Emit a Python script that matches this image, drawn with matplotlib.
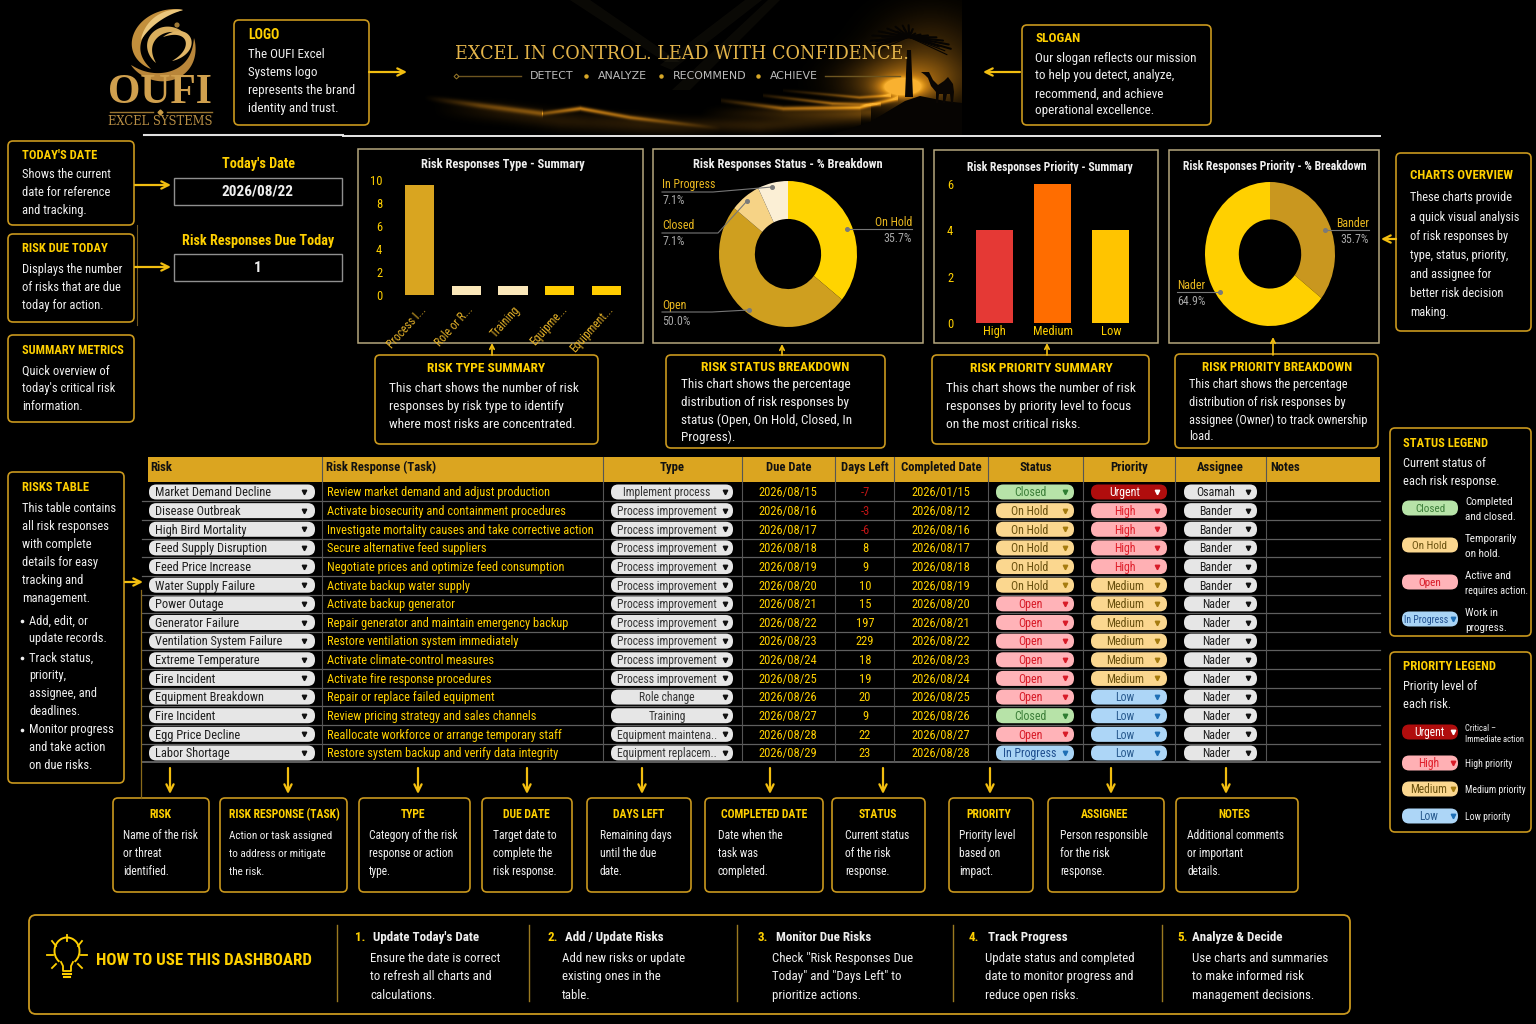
#!/usr/bin/env python3
# risk dashboard, everything placed in image pixels on one full-figure axes
import numpy as np
import matplotlib; matplotlib.use('Agg'); import matplotlib.pyplot as plt
from matplotlib import font_manager as fm
from matplotlib.patches import FancyBboxPatch, Rectangle, Polygon, Circle, Arc

names={f.name for f in fm.fontManager.ttflist}
NARROW=next((n for n in ('Liberation Sans Narrow','Roboto Condensed','Liberation Sans') if n in names),'DejaVu Sans')
plt.rcParams['font.family']=[NARROW,'DejaVu Sans']

GOLD='#FFD000'; EDGE='#C9981E'; WHITE='#EFEFEF'; GREY='#A8A8A8'; PANEL='#B5A67C'

# ---- table data
risks=['Market Demand Decline','Disease Outbreak','High Bird Mortality','Feed Supply Disruption','Feed Price Increase',
       'Water Supply Failure','Power Outage','Generator Failure','Ventilation System Failure','Extreme Temperature',
       'Fire Incident','Equipment Breakdown','Fire Incident','Egg Price Decline','Labor Shortage']
tasks=['Review market demand and adjust production','Activate biosecurity and containment procedures',
       'Investigate mortality causes and take corrective action','Secure alternative feed suppliers',
       'Negotiate prices and optimize feed consumption','Activate backup water supply','Activate backup generator',
       'Repair generator and maintain emergency backup','Restore ventilation system immediately',
       'Activate climate-control measures','Activate fire response procedures','Repair or replace failed equipment',
       'Review pricing strategy and sales channels','Reallocate workforce or arrange temporary staff',
       'Restore system backup and verify data integrity']
types=['Implement process']+['Process improvement']*10+['Role change','Training','Equipment maintena..','Equipment replacem..']
due=['2026/08/15','2026/08/16','2026/08/17','2026/08/18','2026/08/19','2026/08/20','2026/08/21','2026/08/22',
     '2026/08/23','2026/08/24','2026/08/25','2026/08/26','2026/08/27','2026/08/28','2026/08/29']
days_left=[-7,-3,-6,8,9,10,15,197,229,18,19,20,9,22,23]
completed=['2026/01/15','2026/08/12','2026/08/16','2026/08/17','2026/08/18','2026/08/19','2026/08/20','2026/08/21',
           '2026/08/22','2026/08/23','2026/08/24','2026/08/25','2026/08/26','2026/08/27','2026/08/28']
status=['Closed','On Hold','On Hold','On Hold','On Hold','On Hold','Open','Open','Open','Open','Open','Open','Closed','Open','In Progress']
priority=['Urgent','High','High','High','High','Medium','Medium','Medium','Medium','Medium','Medium','Low','Low','Low','Low']
assignee=['Osamah','Bander','Bander','Bander','Bander','Bander']+['Nader']*9
headers=['Risk','Risk Response (Task)','Type','Due Date','Days Left','Completed Date','Status','Priority','Assignee','Notes']

# ---- chart data
type_names=['Process I...','Role or R...','Training','Equipme...','Equipment...']
type_counts=[9.6,0.8,0.8,0.8,0.8]
status_names=['On Hold','Open','Closed','In Progress']
status_pct=[35.7,50.0,7.1,7.1]
prio_names=['High','Medium','Low']
prio_counts=[4,6,4]
owner_names=['Bander','Nader']
owner_pct=[35.7,64.9]

fig=plt.figure(figsize=(15.36,10.24),dpi=100,facecolor='black')
ax=fig.add_axes([0,0,1,1]); ax.set_xlim(0,1536); ax.set_ylim(1024,0); ax.axis('off')

def px_axes(x0,y0,x1,y1):
    a=fig.add_axes([x0/1536,1-y1/1024,(x1-x0)/1536,(y1-y0)/1024]); a.patch.set_alpha(0)
    return a
def t(x,y,s,c=WHITE,fs=9.0,w='normal',ha='left',**kw):
    return ax.text(x,y+.8,s,color=c,fontsize=fs,fontweight=w,ha=ha,va='center',**kw)
def rbox(x0,y0,x1,y1,ec=EDGE,lw=1.2,r=5,fc='black',z=1):
    p=FancyBboxPatch((x0+r,y0+r),x1-x0-2*r,y1-y0-2*r,boxstyle=f'round,pad={r},rounding_size={r}',ec=ec,fc=fc,lw=lw,zorder=z)
    ax.add_patch(p); return p
def arrow(x0,y0,x1,y1,lw=1.6,ms=13):
    ax.annotate('',xy=(x1,y1),xytext=(x0,y0),arrowprops=dict(arrowstyle='->',color='#F2BE10',lw=lw,mutation_scale=ms,shrinkA=0,shrinkB=0))

# ---- banner: glow plus soft dune crests
yy,xx=np.mgrid[0:135,410:962]
glow=1.0*np.exp(-(((xx-901)/20.)**2+((yy-87)/9.)**2))+0.55*np.exp(-(((xx-905)/52.)**2+((yy-82)/24.)**2))+0.24*np.exp(-(((xx-930)/50.)**2+((yy-55)/40.)**2))
crests=[([423,480,542],[97,105,113],[.0,.35,.45],3.0),
        ([430,500,560,640,720],[108,112,120,125,133],[.0,.12,.14,.12,.0],9.0),
        ([542,580,630,721],[113,108,117,128],[.4,.75,.55,.0],2.2),
        ([590,680,760,860],[118,124,125,118],[.0,.1,.18,.14],7.0),
        ([721,783,859,897],[100,108,107,98],[.1,.55,.7,.5],2.2),
        ([763,832,880],[95,103,104],[.1,.6,.3],1.8),
        ([783,859,890],[90,97,95],[.05,.45,.4],1.6),
        ([700,790,870],[112,113,112],[.0,.2,.3],6.0)]
band=np.zeros_like(glow)
for xs,ys,amps,wd in crests:
    yc=np.interp(xx,xs,ys); am=np.where((xx<xs[0])|(xx>xs[-1]),0,np.interp(xx,xs,amps))
    band+=am*np.exp(-((yy-yc)/wd)**2)
level=np.clip(glow+band,0,1)
img=np.zeros(yy.shape+(4,)); img[...,0]=.98; img[...,1]=.62+.3*np.clip(level-.75,0,1); img[...,2]=.10+.6*np.clip(level-.85,0,1)
img[...,3]=level
ax.imshow(img,extent=(410,962,135,0),aspect='auto',zorder=0,interpolation='bilinear')
ax.set_xlim(0,1536); ax.set_ylim(1024,0)
for pts in ((570,0),(590,0),(680,62),(665,62)),((780,0),(768,0),(672,90),(690,90)),((762,0),(745,0),(660,65),(672,70)):
    ax.add_patch(Polygon(pts,fc='#6a5c3a',alpha=.10,ec='none',zorder=0))
ax.add_patch(Polygon([(830,135),(870,122),(905,101),(920,96),(945,101),(962,103),(962,135)],fc='#060402',ec='none',zorder=0.6))
# palm and camel
ax.add_patch(Polygon([(907,50),(911,50),(913,97),(905,97)],fc='#080503',ec='none',zorder=0.7))
for ang,ln in zip(np.radians(np.arange(-175,11,12.)),[38,40,42,40,36,32,28,24,20,16,20,26,32,36,40,42,40]):
    ax.plot([909,909+ln*np.cos(ang)],[37,37+ln*.5*np.sin(ang)+abs(np.cos(ang))*10],color='#060402',lw=1.5,solid_capstyle='round',zorder=0.7)
    ax.plot([909,909+(ln-4)*np.cos(ang)],[37,37+(ln-4)*.5*np.sin(ang)+abs(np.cos(ang))*16],color='#060402',lw=.8,zorder=0.7)
ax.add_patch(Polygon([(921,72),(929,72),(933,80),(938,85),(944,81),(948,77),(953,84),(954,92),(953,103),(951,103),(950,94),(947,94),(945,103),(943,103),(943,94),(939,94),(938,103),(936,103),(936,92),(931,86),(928,78),(925,75)],fc='#0a0603',ec='none',zorder=0.8))

t(455,53,'EXCEL IN CONTROL. LEAD WITH CONFIDENCE.',c='#E3B44A',fs=12.7,family='DejaVu Serif',zorder=2)
for x,s in ((530,'DETECT'),(598,'ANALYZE'),(673,'RECOMMEND'),(770,'ACHIEVE')):
    t(x,75,s,c='#BDBDBD',fs=7.9,family='DejaVu Sans')
for x in (586,661,758):
    ax.plot(x,76,'o',ms=2.2,color='#D8A828')
ax.plot([458,521],[76,76],color='#6d5520',lw=1); ax.plot([825,900],[76,76],color='#6d5520',lw=1)
ax.plot(456,76,'D',ms=2.5,mfc='none',mec='#9a7a2a',mew=.7)

# ---- logo, tapered ribbons along bezier curves
def ribbon(p0,p1,p2,p3,wd,col,z=1):
    u=np.linspace(0,1,50)[:,None]
    p0,p1,p2,p3=map(np.array,(p0,p1,p2,p3))
    c=(1-u)**3*p0+3*(1-u)**2*u*p1+3*(1-u)*u**2*p2+u**3*p3
    d=np.gradient(c,axis=0); n=np.c_[-d[:,1],d[:,0]]/np.hypot(d[:,0],d[:,1])[:,None]
    hw=wd/2*np.sin(np.pi*u)**.8
    ax.add_patch(Polygon(np.r_[c+n*hw,(c-n*hw)[::-1]],fc=col,ec='none',zorder=z))
ribbon((183,10),(145,10),(118,48),(151,69),10,'#C28F3C')
ribbon((183,10),(165,11),(148,22),(141,40),6,'#EBC77C',z=1.1)
ribbon((131,65),(155,88),(198,78),(194,38),9,'#B9863A')
ribbon((187,36),(165,18),(137,40),(156,63),7,'#D9AE5C')
ribbon((163,37),(190,23),(200,50),(172,61),6,'#E0B566')
ax.add_patch(Circle((177,25),2.6,fc='#A07A35',ec='none'))
t(160,92,'OUFI',c='#D0A04E',fs=30,family='Liberation Serif',w='bold',ha='center')
ax.plot([110,153],[112,112],color='#9A7530',lw=1); ax.plot([167,212],[112,112],color='#9A7530',lw=1); ax.plot(160,112,'D',ms=2.5,color='#C89A45')
t(160,121,'EXCEL SYSTEMS',c='#B98F45',fs=8.3,family='DejaVu Serif',ha='center')

ax.plot([144,343],[134.5,134.5],color='#E0E0E0',lw=1.5,zorder=3); ax.plot([343,1380],[136,136],color='#E8E8E8',lw=1.4,zorder=3)

# ---- callouts
def callout(box,title,tx,ty,lines,lx=None,ly=None,center=False,fs=9.0,tfs=9.0):
    rbox(*box)
    t(tx,ty,title,c=GOLD,fs=tfs,w='bold',ha='center' if center else 'left')
    for y,s in zip(ly,lines):
        t(lx if lx else tx,y,s,fs=fs)

callout((234,20,369,125),'LOGO',248,34,['The OUFI Excel','Systems logo','represents the brand','identity and trust.'],ly=[54,72,90,108],fs=9.4,tfs=10)
callout((1022,25,1211,125),'SLOGAN',1035,38,['Our slogan reflects our mission','to help you detect, analyze,','recommend, and achieve','operational excellence.'],ly=[58,75,93,110],fs=9.4,tfs=9.5)
callout((8,141,134,225),"TODAY'S DATE",22,155,['Shows the current','date for reference','and tracking.'],ly=[174,192,210])
callout((8,234,134,322),'RISK DUE TODAY',22,248,['Displays the number','of risks that are due','today for action.'],ly=[269,287,305])
callout((8,335,134,422),'SUMMARY METRICS',22,350,['Quick overview of',"today's critical risk",'information.'],ly=[370,388,406],tfs=8.8)
callout((8,472,124,783),'RISKS TABLE',22,487,['This table contains','all risk responses','with complete','details for easy','tracking and','management.'],ly=[508,526,544,562,580,598])
for y,s in ((620,'Add, edit, or'),(638,'update records.'),(657,'Track status,'),(675,'priority,'),(693,'assignee, and'),(711,'deadlines.'),(729,'Monitor progress'),(747,'and take action'),(765,'on due risks.')):
    t(29,y,s)
for y in (620,657,729):
    ax.plot(22,y+.5,'o',ms=1.6,color=WHITE)
callout((1396,153,1531,331),'CHARTS OVERVIEW',1410,175,['These charts provide','a quick visual analysis','of risk responses by','type, status, priority,','and assignee for','better risk decision','making.'],ly=[197,217,236,255,274,293,312],fs=8.9,tfs=9.3)
callout((1390,428,1531,636),'STATUS LEGEND',1403,443,['Current status of','each risk response.'],ly=[463,481])
callout((1390,652,1531,832),'PRIORITY LEGEND',1403,666,['Priority level of','each risk.'],ly=[686,704],tfs=9.1)

callout((375,355,598,444),'RISK TYPE SUMMARY',486,368,['This chart shows the number of risk','responses by risk type to identify','where most risks are concentrated.'],lx=389,ly=[388,406,424],center=True,fs=9.6,tfs=9.6)
callout((666,355,885,448),'RISK STATUS BREAKDOWN',775,367,['This chart shows the percentage','distribution of risk responses by','status (Open, On Hold, Closed, In','Progress).'],lx=681,ly=[384,402,419,436],center=True,fs=9.5,tfs=9.7)
callout((932,355,1149,444),'RISK PRIORITY SUMMARY',1041,368,['This chart shows the number of risk','responses by priority level to focus','on the most critical risks.'],lx=946,ly=[388,406,424],center=True,fs=9.6,tfs=9.7)
callout((1175,354,1378,448),'RISK PRIORITY BREAKDOWN',1277,367,['This chart shows the percentage','distribution of risk responses by','assignee (Owner) to track ownership','load.'],lx=1189,ly=[384,402,419,436],center=True,fs=8.9,tfs=9.4)

cols=[((113,209),160,123,'RISK',['Name of the risk','or threat','identified.'],8.3),
      ((220,347),284,229,'RISK RESPONSE (TASK)',['Action or task assigned','to address or mitigate','the risk.'],8.0),
      ((359,470),413,369,'TYPE',['Category of the risk','response or action','type.'],8.3),
      ((482,572),526,493,'DUE DATE',['Target date to','complete the','risk response.'],8.3),
      ((587,691),639,600,'DAYS LEFT',['Remaining days','until the due','date.'],8.3),
      ((705,823),764,718,'COMPLETED DATE',['Date when the','task was','completed.'],8.3),
      ((832,925),878,845,'STATUS',['Current status','of the risk','response.'],8.3),
      ((949,1033),989,959,'PRIORITY',['Priority level','based on','impact.'],8.3),
      ((1048,1164),1105,1060,'ASSIGNEE',['Person responsible','for the risk','response.'],8.4),
      ((1176,1298),1234,1187,'NOTES',['Additional comments','or important','details.'],8.3)]
for (x0,x1),cx,lx,title,body,fs in cols:
    callout((x0,798,x1,892),title,cx,814,body,lx=lx,ly=[835,853,871],center=True,fs=fs,tfs=8.4)
for x in (170,288,418,527,642,770,883,990,1111,1226):
    arrow(x,768,x,794)

arrow(369,72,407,72); arrow(1020,72,983,72); arrow(135,185,171,185); arrow(135,267,171,267)
arrow(125,582,143,582); arrow(1396,239,1381,239)
for x,y in ((492,343),(782,344),(1047,343),(1273,337)):
    arrow(x,355,x,y,lw=1.2,ms=8)
ax.plot([137,137],[225,325],color='#6d5520',lw=.8); ax.plot([141,141],[590,798],color='#8a6a1a',lw=.9)

# ---- date widgets
t(258,163,"Today's Date",c=GOLD,fs=10.3,w='bold',ha='center')
ax.add_patch(Rectangle((174,178),168,27,fc='black',ec='#8f8f8f',lw=1))
t(258,191,'2026/08/22',fs=11,w='bold',ha='center')
t(258,240,'Risk Responses Due Today',c=GOLD,fs=10.2,w='bold',ha='center')
ax.add_patch(Rectangle((174,254),168,27,fc='black',ec='#8f8f8f',lw=1))
t(258,267,'1',fs=11,w='bold',ha='center')

# ---- chart panels
for x0,y0,x1,y1 in ((358,149,643,343),(653,149,923,343),(934,150,1158,343),(1169,150,1379,343)):
    ax.add_patch(Rectangle((x0,y0),x1-x0,y1-y0,fc='black',ec=PANEL,lw=1.1,zorder=1))
for x,y,s,fs in ((503,164,'Risk Responses Type - Summary',9.0),(788,164,'Risk Responses Status - % Breakdown',8.9),
                 (1050,167,'Risk Responses Priority - Summary',8.5),(1275,166,'Risk Responses Priority - % Breakdown',8.5)):
    t(x,y,s,fs=fs,w='bold',ha='center',zorder=3)

a=px_axes(396,180,630,295)
a.bar(range(5),type_counts,width=.62,color=['#D9A520','#FBE7B9','#FBE7B9','#FFCC00','#FFCC00'])
a.set_xlim(-.5,4.5); a.set_ylim(0,10); a.set_yticks([0,2,4,6,8,10])
a.set_xticks(range(5)); a.set_xticklabels(type_names,rotation=48,ha='right',rotation_mode='anchor',color='#E3B028',fontsize=8.4)
a.tick_params(length=0); a.tick_params(axis='x',pad=6); a.tick_params(axis='y',colors=GOLD,labelsize=9,pad=10)
for s in a.spines.values(): s.set_visible(False)

a=px_axes(965,184,1140,323)
a.bar(range(3),prio_counts,width=.64,color=['#E53935','#FF6D00','#FFC400'])
a.set_xlim(-.5,2.5); a.set_ylim(0,6); a.set_yticks([0,2,4,6]); a.set_xticks(range(3)); a.set_xticklabels(prio_names)
a.tick_params(length=0,colors=GOLD,labelsize=9); a.tick_params(axis='x',pad=1.5); a.tick_params(axis='y',pad=8.5)
for s in a.spines.values(): s.set_visible(False)

def donut(cx,cy,rx,ry,vals,colors,hole):
    a=px_axes(cx-rx,cy-ry,cx+rx,cy+ry)
    a.pie(vals,colors=colors,startangle=90,counterclock=False,radius=1,wedgeprops=dict(width=hole))
    a.set_aspect('auto'); a.set_xlim(-1,1); a.set_ylim(-1,1)
donut(788,254,69,73,status_pct,['#FFD400','#CF9F1F','#F6D386','#FBEFD5'],.52)
donut(1270,254,65,72,owner_pct,['#C9971F','#FFD000'],.52)

def leader(name,pct,x,y,ha,line,dot):
    t(x,y,name,c='#E9B820',fs=8.6,ha=ha,zorder=3); t(x,y+16,pct,c=GREY,fs=8.6,ha=ha,zorder=3)
    xs,ys=zip(*line)
    fig.add_artist(plt.Line2D([v/1536 for v in xs],[1-v/1024 for v in ys],color='#777777',lw=.8,zorder=5))
    fig.add_artist(plt.Line2D([dot[0]/1536],[1-dot[1]/1024],marker='o',ms=2.6,color='#7a7a7a',zorder=5))
fmt=lambda v:f'{v:.1f}%'
leader(status_names[3],fmt(status_pct[3]),662,184,'left',[(662,192),(713,192),(772,187)],(772,187))
leader(status_names[2],fmt(status_pct[2]),662,225,'left',[(662,233),(718,233),(747,201)],(747,201))
leader(status_names[1],fmt(status_pct[1]),662,305,'left',[(662,312),(712,312),(749,310)],(749,310))
leader(status_names[0],fmt(status_pct[0]),912,222,'right',[(912,229),(847,229)],(847,229))
leader(owner_names[0],fmt(owner_pct[0]),1369,223,'right',[(1369,230),(1325,230)],(1325,230))
leader(owner_names[1],fmt(owner_pct[1]),1177,285,'left',[(1177,292),(1220,292)],(1220,292))

# ---- table
col_x=[148,322,603,742,835,894,988,1083,1175,1266,1380]
ax.add_patch(Rectangle((148,457),1232,25,fc='#DBA520',ec='none',zorder=1))
for i,h in enumerate(headers):
    if i in (0,1,9):
        t(col_x[i]+2 if i==0 else col_x[i]+4,467,h,c='#111111',fs=9.1,w='bold',zorder=3)
    else:
        t((col_x[i]+col_x[i+1])/2,467,h,c='#111111',fs=9.1,w='bold',ha='center',zorder=3)
row_y=np.linspace(492,753,15)
for y in row_y[:-1]+9.3:
    ax.plot([142,1380],[y,y],color='#5f5f5f',lw=.9,zorder=1.2)
ax.plot([142,1380],[762,762],color='#777777',lw=1.1,zorder=1.2)
for x in col_x[1:-1]:
    ax.plot([x,x],[457,762],color='#555555',lw=.8,zorder=1.2)

STYLES={'Closed':('#B7E3A8','#3D7F3A','#2E7D32'),'On Hold':('#FBD78F','#6B5210','#A67C10'),'Open':('#FFB3B8','#D81B28','#D81B28'),
        'In Progress':('#A9D4F5','#1F4F8F','#1F6FB5'),'Urgent':('#B00D0D','#FFFFFF','#FFFFFF'),'High':('#FFB0B4','#E0202C','#D81B28'),
        'Medium':('#FBD78F','#6B5210','#A67C10'),'Low':('#ADD6F7','#2A5C90','#1F6FB5')}
def pill(x0,x1,y,s,fc,tc,ac,tx,ha='center',h=15,fs=8.9,arrow_x=None):
    r=h/2-.3
    ax.add_patch(FancyBboxPatch((x0+r,y-h/2+r),x1-x0-2*r,h-2*r,boxstyle=f'round,pad={r},rounding_size={r}',fc=fc,ec='none',zorder=2))
    t(tx,y,s,c=tc,fs=fs,ha=ha,zorder=3)
    if arrow_x: ax.plot(arrow_x,y,'v',ms=3.2,color=ac,zorder=3)

for i,y in enumerate(row_y):
    pill(149,315,y,risks[i],'#E6E6E6','#1E1E1E','#111111',155,ha='left',arrow_x=304)
    t(327,y,tasks[i],c=GOLD,fs=8.9,zorder=3)
    pill(611,733,y,types[i],'#E6E6E6','#333333','#111111',667,arrow_x=725,fs=8.4)
    t(788,y,due[i],c=GOLD,fs=9.0,ha='center',zorder=3)
    t(865,y,str(days_left[i]),c='#C01515' if days_left[i]<0 else GOLD,fs=9.0,ha='center',zorder=3)
    t(941,y,completed[i],c=GOLD,fs=9.0,ha='center',zorder=3)
    fc,tc,ac=STYLES[status[i]]
    pill(996,1074,y,status[i],fc,tc,ac,1030,arrow_x=1065,fs=8.6)
    fc,tc,ac=STYLES[priority[i]]
    pill(1091,1167,y,priority[i],fc,tc,ac,1125,arrow_x=1157,fs=8.6)
    pill(1184,1257,y,assignee[i],'#E6E6E6','#1E1E1E','#111111',1216,arrow_x=1248,fs=8.6)

# ---- legends
for y,s,d in ((508,'Closed',['Completed','and closed.']),(545,'On Hold',['Temporarily','on hold.']),(582,'Open',['Active and','requires action.']),(619,'In Progress',['Work in','progress.'])):
    fc,tc,ac=STYLES[s]
    pill(1402,1458,y,s,fc,tc,ac,1430 if s!='In Progress' else 1426,fs=8.0 if s!='In Progress' else 7.0,h=15,arrow_x=1453 if s=='In Progress' else None)
    t(1465,y-7,d[0],fs=8.0,zorder=3); t(1465,y+8,d[1],fs=7.4 if len(d[1])>12 else 8.0,zorder=3)
for y,s,d in ((732,'Urgent',None),(763,'High','High priority'),(789,'Medium','Medium priority'),(816,'Low','Low priority')):
    fc,tc,ac=STYLES[s]
    pill(1402,1458,y,s,fc,tc,ac,1429,fs=8.4,h=15,arrow_x=1453)
    if d: t(1465,y,d,fs=7.0,zorder=3)
t(1465,728,'Critical –',fs=6.2,zorder=3); t(1465,739,'Immediate action',fs=6.2,zorder=3)

# ---- how-to strip
rbox(29,915,1350,1014,r=7,lw=1.3)
ax.add_patch(Arc((67,951),25,27,theta1=-235,theta2=55,color=GOLD,lw=1.4))
ax.plot([61,63,63,71,71,73],[962,966,971,971,966,962],color=GOLD,lw=1.3)
ax.plot([63,71],[974,974],color=GOLD,lw=1.5); ax.plot([64,70],[977,977],color=GOLD,lw=1.5)
for x0,y0,x1,y1 in ((67,935,67,941),(52,941,56,946),(82,941,78,946),(47,955,53,955),(81,955,87,955),(52,968,56,964),(82,968,78,964)):
    ax.plot([x0,x1],[y0,y1],color=GOLD,lw=1.3)
t(96,960,'HOW TO USE THIS DASHBOARD',c=GOLD,fs=12.2,w='bold')
for x in (337,529,737,953,1162):
    ax.plot([x,x],[925,1001],color='#9a7a20',lw=1)
steps=[(355,373,370,'1.',"Update Today's Date",['Ensure the date is correct','to refresh all charts and','calculations.']),
       (547,565,562,'2.','Add / Update Risks',['Add new risks or update','existing ones in the','table.']),
       (758,776,772,'3.','Monitor Due Risks',['Check "Risk Responses Due','Today" and "Days Left" to','prioritize actions.']),
       (969,988,985,'4.','Track Progress',['Update status and completed','date to monitor progress and','reduce open risks.']),
       (1177,1192,1192,'5.','Analyze & Decide',['Use charts and summaries','to make informed risk','management decisions.'])]
for nx,tx,bx,n,title,body in steps:
    t(nx,937,n,c=GOLD,fs=9.4,w='bold'); t(tx,937,title,fs=9.4,w='bold')
    for y,s in zip((958,976,995),body):
        t(bx,y,s,fs=9.3)

fig.savefig('out.png',dpi=100,facecolor='black')
